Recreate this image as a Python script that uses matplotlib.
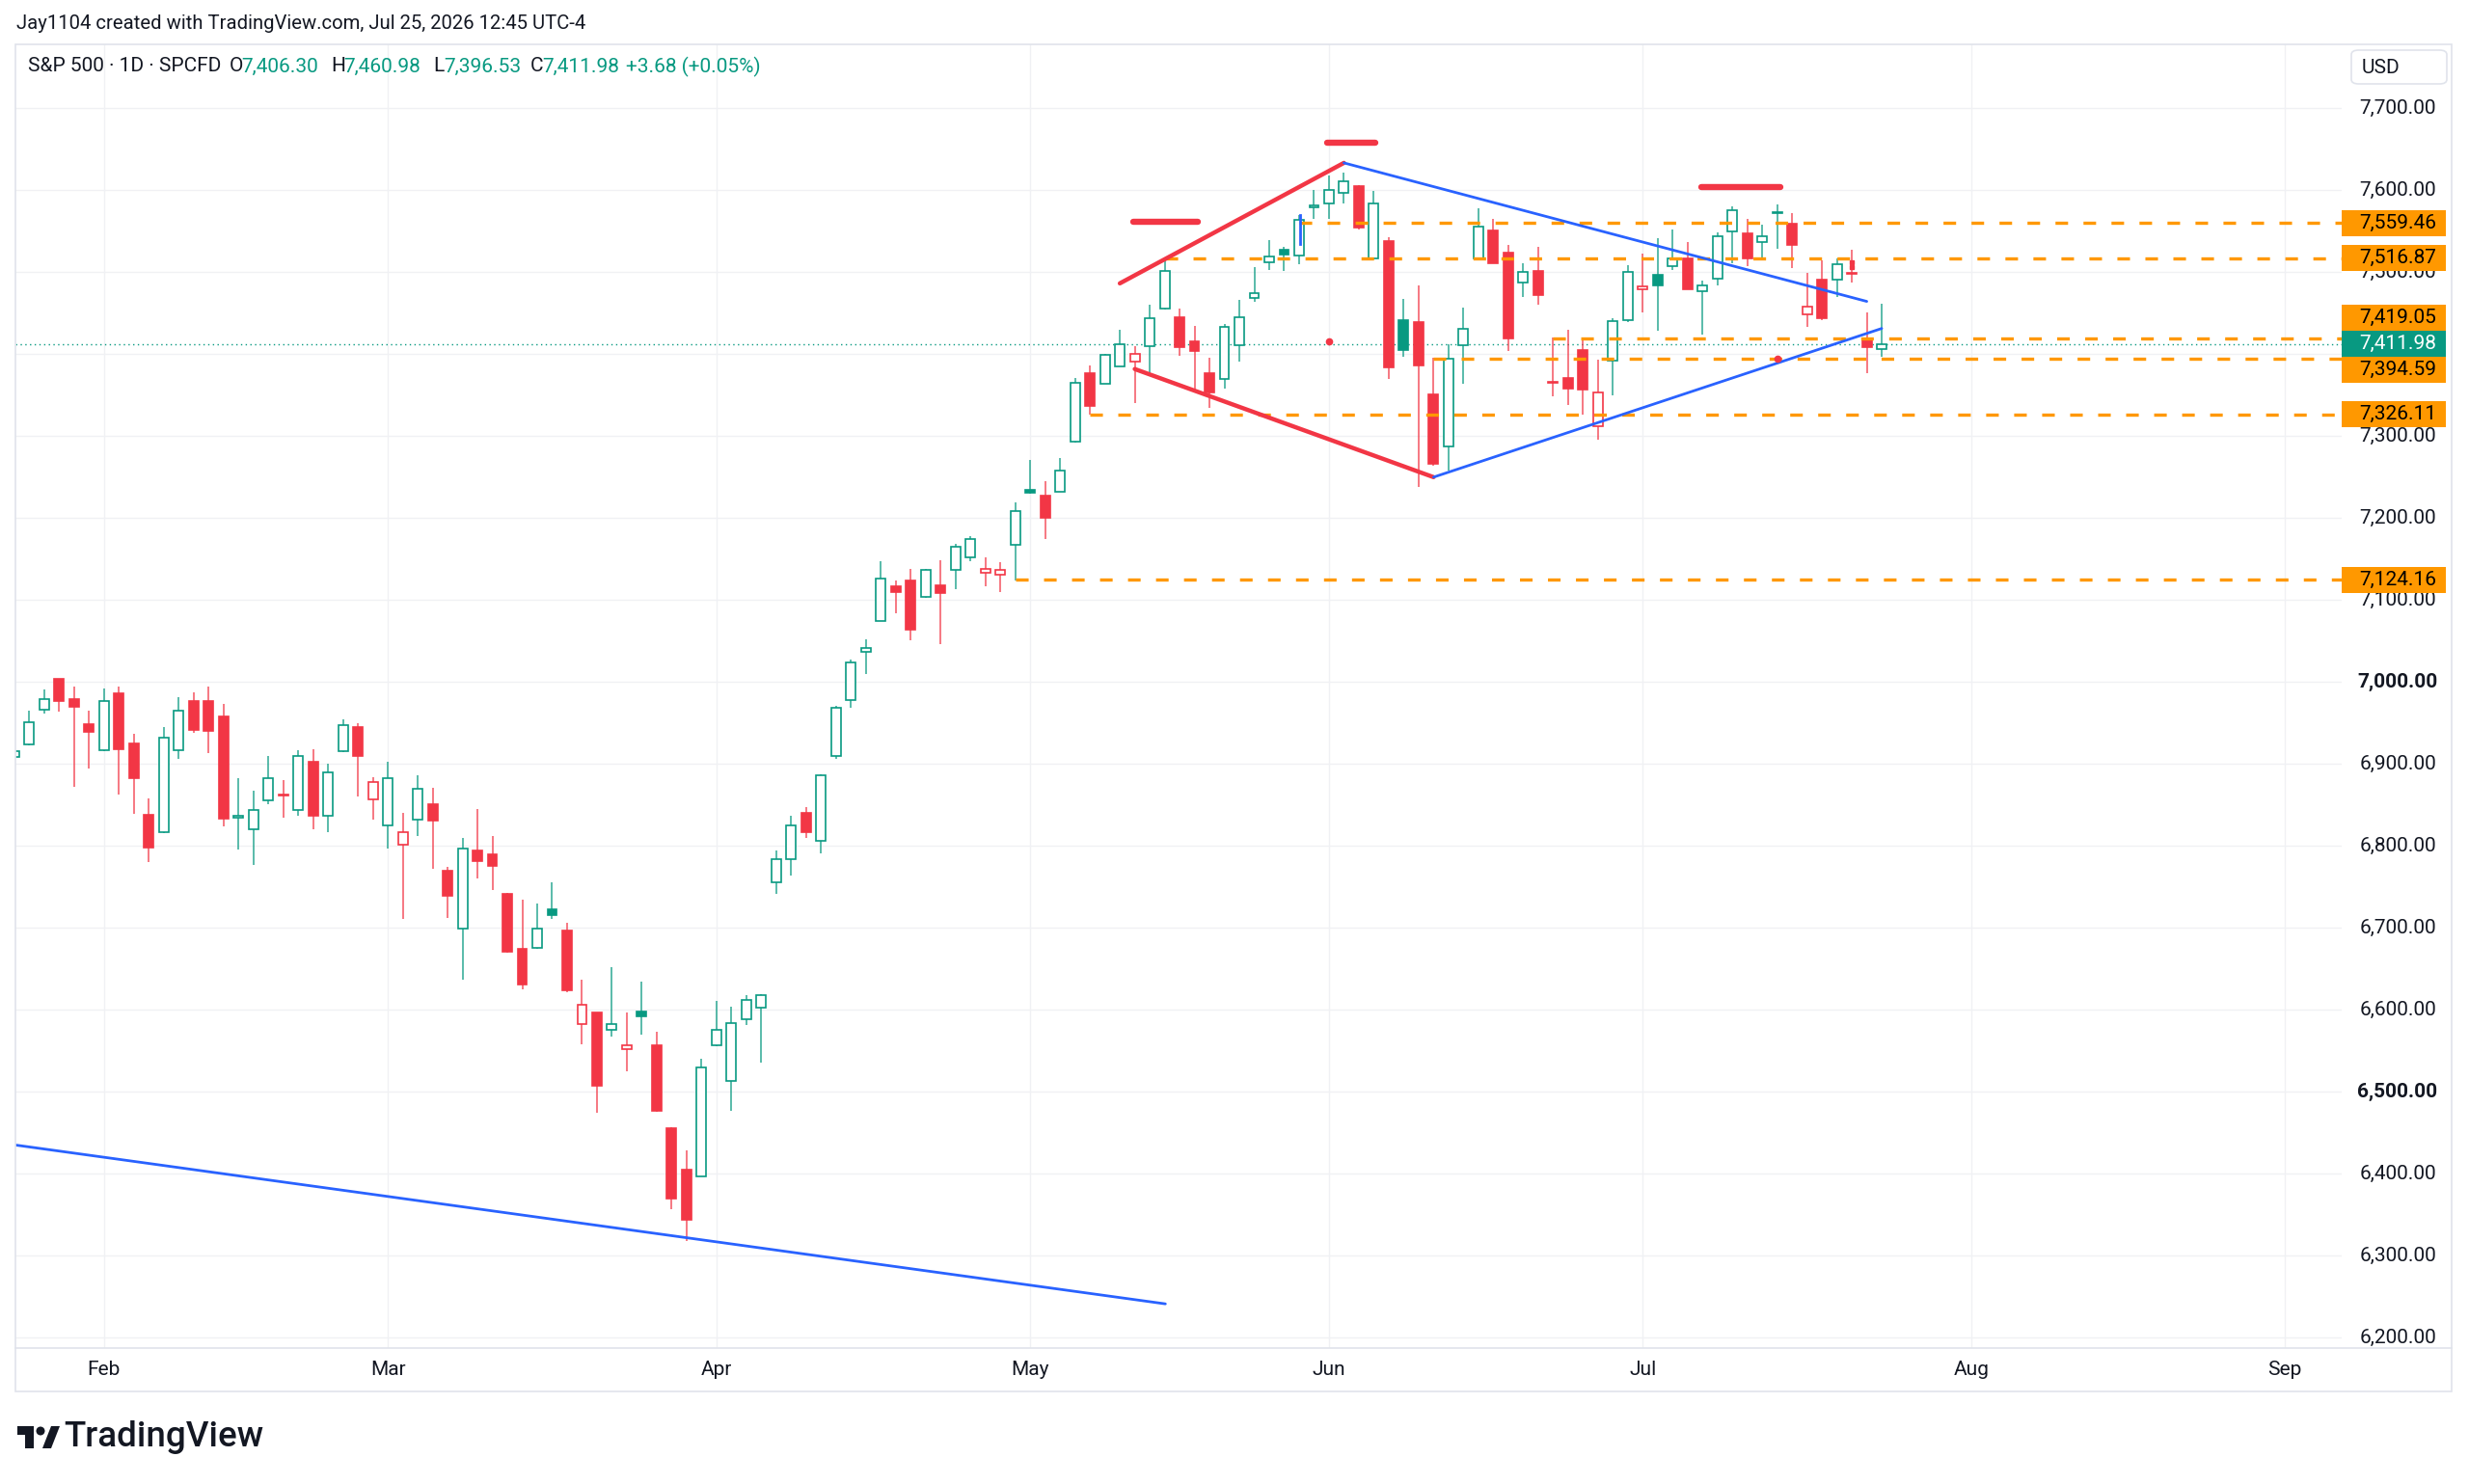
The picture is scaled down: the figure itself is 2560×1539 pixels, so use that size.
import numpy as np
import pandas as pd
import matplotlib
matplotlib.use('Agg')
import matplotlib.pyplot as plt
from matplotlib.patches import Rectangle, FancyBboxPatch, Ellipse, Polygon
from matplotlib.lines import Line2D
from matplotlib.transforms import blended_transform_factory

W, H = 2560, 1539
plt.rcParams['font.family'] = ['Roboto', 'DejaVu Sans']
plt.rcParams['lines.scale_dashes'] = False

GREEN = '#089981'
RED = '#F23645'
ORANGE = '#FF9800'
BLUE = '#2962FF'
TXT = '#131722'

# daily candles, Jan 23 2026 .. Jul 24 2026
opens = [6908, 6923, 6966, 7003, 6979, 6948, 6916, 6986, 6925, 6838, 6816, 6917,
         6976, 6977, 6958, 6834, 6820, 6855, 6861, 6844, 6902, 6837, 6915, 6945,
         6856, 6825, 6801, 6832, 6851, 6769, 6699, 6794, 6790, 6741, 6674, 6675,
         6722, 6697, 6582, 6596, 6575, 6552, 6598, 6557, 6455, 6405, 6396, 6556,
         6513, 6588, 6602, 6755, 6784, 6840, 6806, 6910, 6978, 7037, 7074, 7116,
         7123, 7103, 7118, 7136, 7152, 7133, 7131, 7167, 7234, 7227, 7232, 7293,
         7377, 7363, 7385, 7391, 7409, 7455, 7445, 7415, 7376, 7369, 7410, 7468,
         7512, 7527, 7520, 7579, 7583, 7596, 7605, 7517, 7538, 7441, 7439, 7351,
         7287, 7410, 7517, 7550, 7524, 7487, 7501, 7365, 7371, 7405, 7312, 7392,
         7441, 7479, 7496, 7507, 7517, 7477, 7492, 7549, 7547, 7536, 7572, 7559,
         7448, 7490, 7491, 7498, 7418, 7406.30]
highs = [6917, 6965, 6990, 7004, 6994, 6965, 6992, 6994, 6937, 6858, 6945, 6981,
         6987, 6994, 6973, 6882, 6867, 6910, 6880, 6917, 6918, 6900, 6954, 6949,
         6884, 6902, 6840, 6886, 6871, 6774, 6810, 6845, 6812, 6742, 6734, 6730,
         6755, 6706, 6637, 6597, 6652, 6597, 6634, 6573, 6456, 6428, 6540, 6611,
         6604, 6618, 6619, 6794, 6836, 6847, 6887, 6970, 7027, 7052, 7147, 7123,
         7138, 7138, 7148, 7168, 7178, 7152, 7146, 7219, 7271, 7245, 7273, 7370,
         7386, 7400, 7429, 7409, 7460, 7517, 7455, 7434, 7395, 7436, 7466, 7506,
         7539, 7530, 7569, 7600, 7618, 7621, 7606, 7599, 7542, 7467, 7484, 7395,
         7412, 7457, 7578, 7565, 7533, 7511, 7531, 7420, 7429, 7419, 7393, 7444,
         7508, 7522, 7541, 7552, 7537, 7489, 7548, 7580, 7565, 7558, 7582, 7572,
         7499, 7514, 7516, 7527, 7451, 7460.98]
lows = [6905, 6922, 6961, 6964, 6872, 6894, 6915, 6862, 6839, 6780, 6815, 6906,
        6938, 6913, 6824, 6795, 6776, 6851, 6834, 6837, 6820, 6816, 6914, 6860,
        6832, 6797, 6711, 6812, 6772, 6712, 6636, 6760, 6746, 6670, 6625, 6674,
        6711, 6621, 6558, 6474, 6567, 6525, 6570, 6475, 6356, 6318, 6396, 6555,
        6476, 6581, 6535, 6741, 6763, 6809, 6791, 6906, 6968, 7009, 7074, 7084,
        7051, 7102, 7046, 7113, 7147, 7116, 7109, 7124, 7229, 7174, 7232, 7292,
        7326, 7363, 7385, 7340, 7377, 7454, 7398, 7357, 7334, 7358, 7390, 7464,
        7502, 7501, 7509, 7565, 7565, 7584, 7552, 7517, 7369, 7396, 7238, 7264,
        7258, 7364, 7516, 7510, 7403, 7469, 7460, 7348, 7338, 7326, 7295, 7349,
        7439, 7451, 7428, 7502, 7479, 7423, 7483, 7510, 7507, 7515, 7528, 7505,
        7433, 7441, 7469, 7487, 7377, 7396.53]
closes = [6915, 6950, 6979, 6977, 6969, 6939, 6976, 6918, 6882, 6798, 6932, 6965,
          6941, 6940, 6833, 6837, 6843, 6882, 6862, 6910, 6837, 6890, 6947, 6909,
          6878, 6882, 6817, 6870, 6831, 6739, 6797, 6781, 6775, 6671, 6631, 6699,
          6715, 6623, 6606, 6507, 6582, 6556, 6592, 6477, 6369, 6344, 6529, 6575,
          6583, 6612, 6618, 6783, 6825, 6816, 6886, 6968, 7023, 7041, 7126, 7109,
          7064, 7137, 7108, 7165, 7174, 7138, 7136, 7208, 7230, 7200, 7258, 7365,
          7337, 7399, 7412, 7400, 7444, 7501, 7408, 7403, 7353, 7433, 7445, 7474,
          7519, 7521, 7564, 7581, 7600, 7611, 7554, 7584, 7383, 7405, 7386, 7266,
          7394, 7431, 7555, 7511, 7419, 7500, 7472, 7366, 7358, 7357, 7353, 7440,
          7500, 7482, 7484, 7517, 7479, 7483, 7544, 7575, 7516, 7544, 7573, 7533,
          7458, 7443, 7509, 7499, 7408.30, 7411.98]

holidays = ['2026-02-16', '2026-04-03', '2026-05-25', '2026-06-19', '2026-07-03']
month_names = ['Feb', 'Mar', 'Apr', 'May', 'Jun', 'Jul', 'Aug', 'Sep']
price_ticks = list(range(6200, 7800, 100))
bold_ticks = [7000, 6500]

# horizontal levels and where they start (bar index)
levels = [7559.46, 7516.87, 7419.05, 7394.59, 7326.11, 7124.16]
level_start = [86, 77, 103, 95, 72, 67]

# drawings: (bar0, price0, bar1, price1)
red_lines = [(74, 7486, 89, 7633), (75, 7381.5, 95, 7249.6)]
red_marks = [(74.9, 79.2, 7561.5), (87.9, 91.1, 7658), (112.9, 118.2, 7603.5)]
blue_lines = [(89, 7633, 124, 7464), (95, 7249.6, 125, 7431), (-2, 6440, 77.05, 6241)]
dots = [(88, 7415), (118, 7394)]

days = pd.bdate_range('2026-01-23', '2026-09-30', freq='C', holidays=holidays)


def fx(x):
    return x / W


def fy(y):
    return 1 - y / H


fig = plt.figure(figsize=(W / 100, H / 100), dpi=100)
ax = fig.add_axes([fx(16), fy(1398), fx(2428) - fx(16), fy(46) - fy(1398)])
ax.set_xlim(0.074, 155.79)
ax.set_ylim(6187.1, 7777.6)
ax.axis('off')

# grid
for p in price_ticks:
    ax.axhline(p, color='#f0f1f4', lw=1.0, zorder=0)
month_pos = []
for m in range(2, 10):
    month_pos.append(int(np.argmax(days.month == m)))
for m in month_pos:
    ax.axvline(m, color='#f0f1f4', lw=1.0, zorder=0)

# candles
o = np.array(opens, float)
c = np.array(closes, float)
hi = np.array(highs, float)
lo = np.array(lows, float)
x = np.arange(len(c))
prev = np.r_[o[0], c[:-1]]
col = np.where(c >= prev, GREEN, RED)
hollow = c > o
top = np.maximum(o, c)
bot = np.minimum(o, c)
ax.vlines(x, lo, hi, colors=col, lw=1.1, alpha=0.85, zorder=3)
face = np.where(hollow, 'white', col)
ax.bar(x, np.maximum(top - bot, 1.0), 0.64, bottom=bot, color=face,
       edgecolor=col, linewidth=1.2, zorder=4)

# current price dotted line
ax.axhline(c[-1], color=GREEN, lw=1.0, ls=(0, (1, 2.5)), zorder=2)

# levels
xmax = ax.get_xlim()[1]
for lv, s in zip(levels, level_start):
    ax.plot([s, xmax], [lv, lv], color=ORANGE, lw=2.4, ls=(0, (9.4, 11.5)),
            zorder=5, solid_capstyle='butt')

# drawings
for x0, y0, x1, y1 in red_lines:
    ax.plot([x0, x1], [y0, y1], color=RED, lw=3.2, solid_capstyle='round', zorder=6)
for x0, x1, y in red_marks:
    ax.plot([x0, x1], [y, y], color=RED, lw=4.6, solid_capstyle='round', zorder=6)
for x0, y0, x1, y1 in blue_lines:
    ax.plot([x0, x1], [y0, y1], color=BLUE, lw=2.0, solid_capstyle='round', zorder=6)
ax.plot([86.07, 86.07], [7534, 7569], color=BLUE, lw=2.0, zorder=6)
ax.plot([123, 123], [7506, 7512], 's', color=RED, ms=2.6, zorder=6)
for dx, dy in dots:
    ax.plot(dx, dy, 'o', color=RED, ms=4.5, zorder=6)

# price labels with stacking like the app does
trans = blended_transform_factory(fig.transFigure, ax.transData)
px_per_price = (ax.get_position().height * H) / (ax.get_ylim()[1] - ax.get_ylim()[0])
box_h = 27 / px_per_price
last = c[-1]
placed = [(last, last, GREEN, 'white')]
above = sorted([lv for lv in levels if lv > last])
below = sorted([lv for lv in levels if lv <= last], reverse=True)
pos = last
for lv in above:
    pos = max(lv, pos + box_h)
    placed.append((lv, pos, ORANGE, 'black'))
pos = last
for lv in below:
    pos = min(lv, pos - box_h)
    placed.append((lv, pos, ORANGE, 'black'))


def covered(v):
    return any(abs(v - yp) <= box_h / 2 for _, yp, _, _ in placed)


# price axis (labels fully under the boxes are hidden, as in the app)
half = 7 / px_per_price
for p in price_ticks:
    if covered(p - half) and covered(p + half):
        continue
    ax.text(fx(2486), p, f'{p:,.2f}', transform=trans, ha='center', va='center',
            fontsize=15, color=TXT, clip_on=False, zorder=7,
            fontweight='bold' if p in bold_ticks else 'normal')

for lv, yp, bg, fg in placed:
    ax.add_patch(Rectangle((fx(2428), yp - box_h / 2), fx(2536) - fx(2428), box_h,
                           transform=trans, facecolor=bg, edgecolor='none',
                           clip_on=False, zorder=8))
    ax.text(fx(2486), yp, f'{lv:,.2f}', transform=trans, ha='center', va='center',
            fontsize=15, color=fg, clip_on=False, zorder=9)

# time axis
ttrans = blended_transform_factory(ax.transData, fig.transFigure)
for m, name in zip(month_pos, month_names):
    ax.text(m, fy(1421), name, transform=ttrans, ha='center', va='center',
            fontsize=15, color=TXT, clip_on=False)

# frame
fig.patches.append(Rectangle((fx(16), fy(1443)), fx(2542) - fx(16), fy(46) - fy(1443),
                             transform=fig.transFigure, fill=False, ec='#e0e3eb', lw=1.2))
fig.lines.append(Line2D([fx(16), fx(2542)], [fy(1398), fy(1398)],
                        transform=fig.transFigure, color='#e0e3eb', lw=1.2))

# USD box
fig.patches.append(FancyBboxPatch((fx(2438), fy(87)), fx(2537) - fx(2438), fy(52) - fy(87),
                                  boxstyle='round,pad=0,rounding_size=0.003',
                                  transform=fig.transFigure, fc='white', ec='#e0e3eb', lw=1.2))
fig.text(fx(2449), fy(70), 'USD', fontsize=15, color=TXT, va='center', ha='left')

# header texts
fig.text(fx(17), fy(25), 'Jay1104 created with TradingView.com, Jul 25, 2026 12:45 UTC-4',
         fontsize=14.6, color=TXT, va='center', ha='left')
legend = [(29, 'S&P 500 · 1D · SPCFD', TXT), (238, 'O', TXT), (250, '7,406.30', GREEN),
          (343, 'H', TXT), (356, '7,460.98', GREEN), (449, 'L', TXT), (460, '7,396.53', GREEN),
          (550, 'C', TXT), (562, '7,411.98', GREEN), (649, '+3.68 (+0.05%)', GREEN)]
for lx, s, cl in legend:
    fig.text(fx(lx), fy(69), s, fontsize=15, color=cl, va='center', ha='left')

# logo
fig.patches.append(Rectangle((fx(18), fy(1488)), fx(35) - fx(18), fy(1479) - fy(1488),
                             transform=fig.transFigure, fc='#131722', ec='none'))
fig.patches.append(Rectangle((fx(26), fy(1502)), fx(35) - fx(26), fy(1479) - fy(1502),
                             transform=fig.transFigure, fc='#131722', ec='none'))
fig.patches.append(Ellipse((fx(42), fy(1484)), 9 / W, 9 / H,
                           transform=fig.transFigure, fc='#131722', ec='none'))
fig.patches.append(Polygon([(fx(44), fy(1502)), (fx(53), fy(1479)), (fx(62), fy(1479)),
                            (fx(53), fy(1502))], closed=True,
                           transform=fig.transFigure, fc='#131722', ec='none'))
fig.text(fx(66), fy(1491), 'TradingView', fontsize=26.5, fontweight='medium',
         color='#131722', va='center', ha='left')

fig.savefig('out.png', dpi=100, facecolor='white')
